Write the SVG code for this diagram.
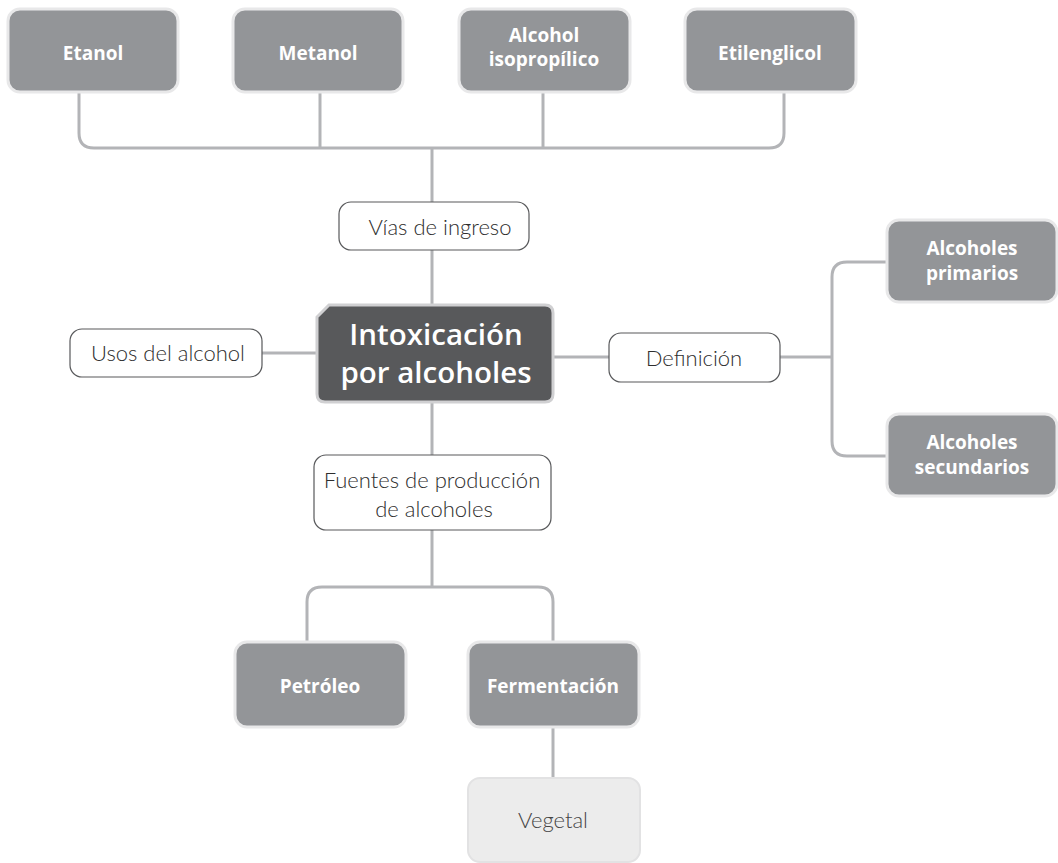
<svg xmlns="http://www.w3.org/2000/svg" width="1058" height="863" viewBox="0 0 1058 863">
  <style>
    .link { fill: none; stroke: #b3b4b7; stroke-width: 3; }
    .dark { fill: #939598; stroke: #e8e8e9; stroke-width: 3; }
    .label { fill: #ffffff; stroke: #58595b; stroke-width: 1.2; }
    .leaf { fill: #ececec; stroke: #e2e2e3; stroke-width: 2; }
    .bold { font-family: "Open Sans", "Liberation Sans", sans-serif; font-weight: 700; font-size: 19px; fill: #ffffff; text-anchor: middle; }
    .thin { font-family: Lato, "Open Sans", "Liberation Sans", sans-serif; font-weight: 300; font-size: 22px; fill: #2e2e2e; text-anchor: middle; }
    .main { font-family: "Open Sans", "Liberation Sans", sans-serif; font-weight: 600; font-size: 29.5px; fill: #ffffff; text-anchor: middle; }
  </style>

  <g id="connectors">
    <!-- substances bus -->
    <path class="link" d="M79,92 V133 Q79,148 94,148 H769 Q784,148 784,133 V92"/>
    <path class="link" d="M320,92 V148"/>
    <path class="link" d="M543,92 V148"/>
    <path class="link" d="M432,148 V202"/>
    <path class="link" d="M432,250 V305"/>
    <!-- left / right of center -->
    <path class="link" d="M262,353 H317"/>
    <path class="link" d="M553,357 H609"/>
    <path class="link" d="M780,357 H832"/>
    <path class="link" d="M887,262 H847 Q832,262 832,277 V441 Q832,456 847,456 H887"/>
    <!-- production sources -->
    <path class="link" d="M432,402 V455"/>
    <path class="link" d="M432,530 V587"/>
    <path class="link" d="M307,642 V602 Q307,587 322,587 H538 Q553,587 553,602 V642"/>
    <path class="link" d="M553,727 V778"/>
  </g>

  <g id="node-etanol">
    <rect class="dark" x="8" y="9" width="170" height="83" rx="12"/>
    <text class="bold" x="93" y="60">Etanol</text>
  </g>
  <g id="node-metanol">
    <rect class="dark" x="233" y="9" width="170" height="83" rx="12"/>
    <text class="bold" x="318" y="60">Metanol</text>
  </g>
  <g id="node-isopropilico">
    <rect class="dark" x="459" y="9" width="171" height="83" rx="12"/>
    <text class="bold" x="544" y="42">Alcohol</text>
    <text class="bold" x="544" y="66">isopropílico</text>
  </g>
  <g id="node-etilenglicol">
    <rect class="dark" x="685" y="9" width="171" height="83" rx="12"/>
    <text class="bold" x="770" y="60">Etilenglicol</text>
  </g>

  <g id="node-vias">
    <rect class="label" x="339" y="202" width="190" height="48" rx="12"/>
    <text class="thin" x="440" y="235">Vías de ingreso</text>
  </g>

  <g id="node-center">
    <path d="M329,305 H545 Q553,305 553,313 V394 Q553,402 545,402 H325 Q317,402 317,394 V317 Z" fill="#58595b" stroke="#d0d0d2" stroke-width="3"/>
    <text class="main" x="436" y="345">Intoxicación</text>
    <text class="main" x="436" y="383">por alcoholes</text>
  </g>

  <g id="node-usos">
    <rect class="label" x="70" y="329" width="192" height="48" rx="12"/>
    <text class="thin" x="168" y="361">Usos del alcohol</text>
  </g>

  <g id="node-definicion">
    <rect class="label" x="609" y="333" width="171" height="49" rx="12"/>
    <text class="thin" x="694" y="366">Definición</text>
  </g>

  <g id="node-primarios">
    <rect class="dark" x="887" y="220" width="170" height="82" rx="12"/>
    <text class="bold" x="972" y="255">Alcoholes</text>
    <text class="bold" x="972" y="280">primarios</text>
  </g>
  <g id="node-secundarios">
    <rect class="dark" x="887" y="414" width="170" height="82" rx="12"/>
    <text class="bold" x="972" y="449">Alcoholes</text>
    <text class="bold" x="972" y="474">secundarios</text>
  </g>

  <g id="node-fuentes">
    <rect class="label" x="314" y="455" width="237" height="75" rx="12"/>
    <text class="thin" x="432" y="488">Fuentes de producción</text>
    <text class="thin" x="434" y="517">de alcoholes</text>
  </g>

  <g id="node-petroleo">
    <rect class="dark" x="235" y="642" width="171" height="85" rx="12"/>
    <text class="bold" x="320" y="693">Petróleo</text>
  </g>
  <g id="node-fermentacion">
    <rect class="dark" x="468" y="642" width="171" height="85" rx="12"/>
    <text class="bold" x="553" y="693">Fermentación</text>
  </g>

  <g id="node-vegetal">
    <rect class="leaf" x="468" y="778" width="172" height="84" rx="12"/>
    <text class="thin" x="553" y="828" style="fill:#444444">Vegetal</text>
  </g>
</svg>
